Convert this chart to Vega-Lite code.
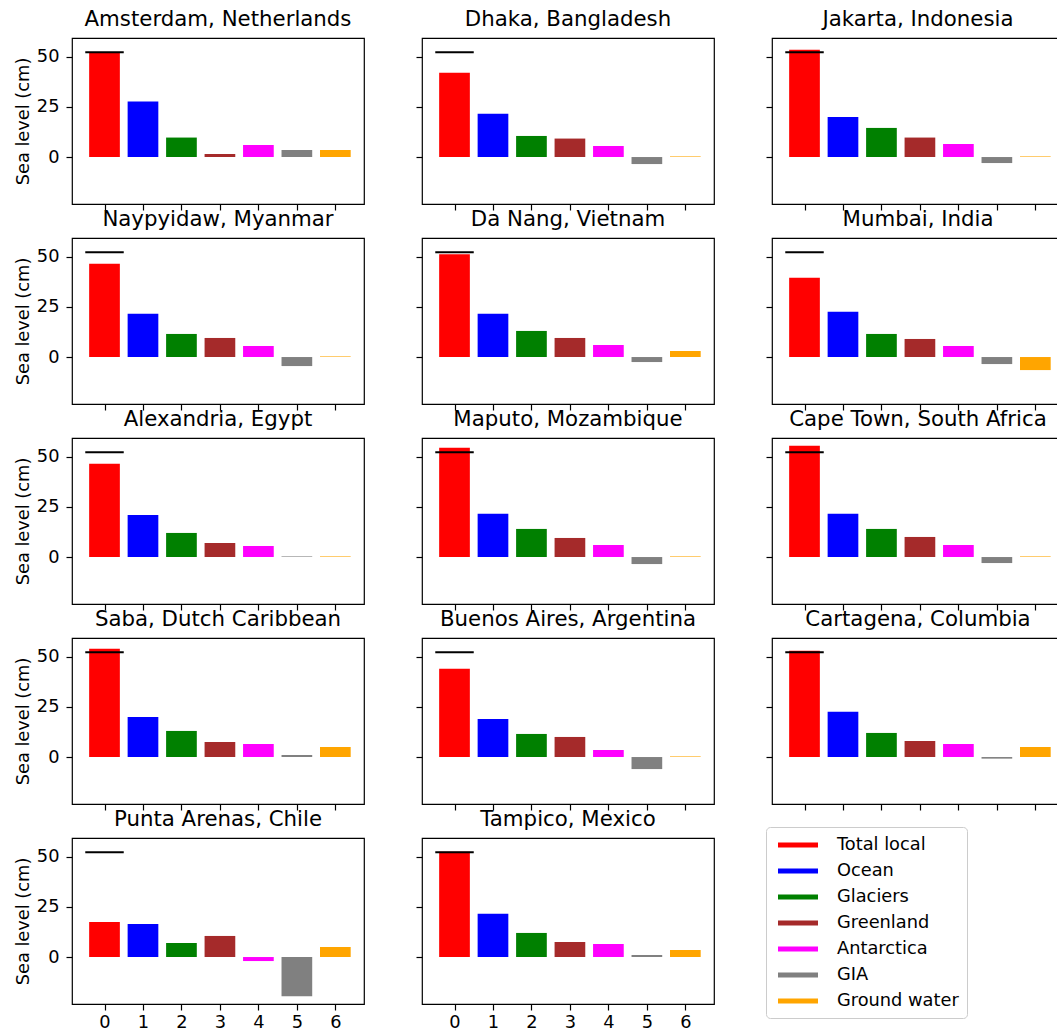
{
"$schema": "https://vega.github.io/schema/vega-lite/v6.json",
"padding": {"left": 13, "top": 8, "right": 5, "bottom": 2},
"background": "white",
"datasets": {
"bars": [
{"city":"Amsterdam, Netherlands","idx":0,"component":"Total local","value":51.8},
{"city":"Amsterdam, Netherlands","idx":1,"component":"Ocean","value":27.7},
{"city":"Amsterdam, Netherlands","idx":2,"component":"Glaciers","value":9.7},
{"city":"Amsterdam, Netherlands","idx":3,"component":"Greenland","value":1.5},
{"city":"Amsterdam, Netherlands","idx":4,"component":"Antarctica","value":6},
{"city":"Amsterdam, Netherlands","idx":5,"component":"GIA","value":3.5},
{"city":"Amsterdam, Netherlands","idx":6,"component":"Ground water","value":3.5},
{"city":"Dhaka, Bangladesh","idx":0,"component":"Total local","value":42},
{"city":"Dhaka, Bangladesh","idx":1,"component":"Ocean","value":21.5},
{"city":"Dhaka, Bangladesh","idx":2,"component":"Glaciers","value":10.5},
{"city":"Dhaka, Bangladesh","idx":3,"component":"Greenland","value":9.2},
{"city":"Dhaka, Bangladesh","idx":4,"component":"Antarctica","value":5.5},
{"city":"Dhaka, Bangladesh","idx":5,"component":"GIA","value":-3.5},
{"city":"Dhaka, Bangladesh","idx":6,"component":"Ground water","value":0.3},
{"city":"Jakarta, Indonesia","idx":0,"component":"Total local","value":53.5},
{"city":"Jakarta, Indonesia","idx":1,"component":"Ocean","value":20},
{"city":"Jakarta, Indonesia","idx":2,"component":"Glaciers","value":14.5},
{"city":"Jakarta, Indonesia","idx":3,"component":"Greenland","value":9.7},
{"city":"Jakarta, Indonesia","idx":4,"component":"Antarctica","value":6.5},
{"city":"Jakarta, Indonesia","idx":5,"component":"GIA","value":-3},
{"city":"Jakarta, Indonesia","idx":6,"component":"Ground water","value":0.3},
{"city":"Naypyidaw, Myanmar","idx":0,"component":"Total local","value":46.5},
{"city":"Naypyidaw, Myanmar","idx":1,"component":"Ocean","value":21.5},
{"city":"Naypyidaw, Myanmar","idx":2,"component":"Glaciers","value":11.5},
{"city":"Naypyidaw, Myanmar","idx":3,"component":"Greenland","value":9.5},
{"city":"Naypyidaw, Myanmar","idx":4,"component":"Antarctica","value":5.5},
{"city":"Naypyidaw, Myanmar","idx":5,"component":"GIA","value":-4.5},
{"city":"Naypyidaw, Myanmar","idx":6,"component":"Ground water","value":0.3},
{"city":"Da Nang, Vietnam","idx":0,"component":"Total local","value":51.2},
{"city":"Da Nang, Vietnam","idx":1,"component":"Ocean","value":21.5},
{"city":"Da Nang, Vietnam","idx":2,"component":"Glaciers","value":13},
{"city":"Da Nang, Vietnam","idx":3,"component":"Greenland","value":9.5},
{"city":"Da Nang, Vietnam","idx":4,"component":"Antarctica","value":6},
{"city":"Da Nang, Vietnam","idx":5,"component":"GIA","value":-2.5},
{"city":"Da Nang, Vietnam","idx":6,"component":"Ground water","value":3},
{"city":"Mumbai, India","idx":0,"component":"Total local","value":39.5},
{"city":"Mumbai, India","idx":1,"component":"Ocean","value":22.5},
{"city":"Mumbai, India","idx":2,"component":"Glaciers","value":11.5},
{"city":"Mumbai, India","idx":3,"component":"Greenland","value":9},
{"city":"Mumbai, India","idx":4,"component":"Antarctica","value":5.5},
{"city":"Mumbai, India","idx":5,"component":"GIA","value":-3.5},
{"city":"Mumbai, India","idx":6,"component":"Ground water","value":-6.5},
{"city":"Alexandria, Egypt","idx":0,"component":"Total local","value":46.5},
{"city":"Alexandria, Egypt","idx":1,"component":"Ocean","value":21},
{"city":"Alexandria, Egypt","idx":2,"component":"Glaciers","value":12},
{"city":"Alexandria, Egypt","idx":3,"component":"Greenland","value":7},
{"city":"Alexandria, Egypt","idx":4,"component":"Antarctica","value":5.5},
{"city":"Alexandria, Egypt","idx":5,"component":"GIA","value":0.3},
{"city":"Alexandria, Egypt","idx":6,"component":"Ground water","value":0.3},
{"city":"Maputo, Mozambique","idx":0,"component":"Total local","value":54.5},
{"city":"Maputo, Mozambique","idx":1,"component":"Ocean","value":21.5},
{"city":"Maputo, Mozambique","idx":2,"component":"Glaciers","value":14},
{"city":"Maputo, Mozambique","idx":3,"component":"Greenland","value":9.5},
{"city":"Maputo, Mozambique","idx":4,"component":"Antarctica","value":6},
{"city":"Maputo, Mozambique","idx":5,"component":"GIA","value":-3.5},
{"city":"Maputo, Mozambique","idx":6,"component":"Ground water","value":0.3},
{"city":"Cape Town, South Africa","idx":0,"component":"Total local","value":55.5},
{"city":"Cape Town, South Africa","idx":1,"component":"Ocean","value":21.5},
{"city":"Cape Town, South Africa","idx":2,"component":"Glaciers","value":14},
{"city":"Cape Town, South Africa","idx":3,"component":"Greenland","value":10},
{"city":"Cape Town, South Africa","idx":4,"component":"Antarctica","value":6},
{"city":"Cape Town, South Africa","idx":5,"component":"GIA","value":-3},
{"city":"Cape Town, South Africa","idx":6,"component":"Ground water","value":0.3},
{"city":"Saba, Dutch Caribbean","idx":0,"component":"Total local","value":54},
{"city":"Saba, Dutch Caribbean","idx":1,"component":"Ocean","value":20},
{"city":"Saba, Dutch Caribbean","idx":2,"component":"Glaciers","value":13},
{"city":"Saba, Dutch Caribbean","idx":3,"component":"Greenland","value":7.5},
{"city":"Saba, Dutch Caribbean","idx":4,"component":"Antarctica","value":6.5},
{"city":"Saba, Dutch Caribbean","idx":5,"component":"GIA","value":1},
{"city":"Saba, Dutch Caribbean","idx":6,"component":"Ground water","value":5},
{"city":"Buenos Aires, Argentina","idx":0,"component":"Total local","value":44},
{"city":"Buenos Aires, Argentina","idx":1,"component":"Ocean","value":19},
{"city":"Buenos Aires, Argentina","idx":2,"component":"Glaciers","value":11.5},
{"city":"Buenos Aires, Argentina","idx":3,"component":"Greenland","value":10},
{"city":"Buenos Aires, Argentina","idx":4,"component":"Antarctica","value":3.5},
{"city":"Buenos Aires, Argentina","idx":5,"component":"GIA","value":-6},
{"city":"Buenos Aires, Argentina","idx":6,"component":"Ground water","value":0.3},
{"city":"Cartagena, Columbia","idx":0,"component":"Total local","value":53},
{"city":"Cartagena, Columbia","idx":1,"component":"Ocean","value":22.5},
{"city":"Cartagena, Columbia","idx":2,"component":"Glaciers","value":12},
{"city":"Cartagena, Columbia","idx":3,"component":"Greenland","value":8},
{"city":"Cartagena, Columbia","idx":4,"component":"Antarctica","value":6.5},
{"city":"Cartagena, Columbia","idx":5,"component":"GIA","value":-0.8},
{"city":"Cartagena, Columbia","idx":6,"component":"Ground water","value":5},
{"city":"Punta Arenas, Chile","idx":0,"component":"Total local","value":17.5},
{"city":"Punta Arenas, Chile","idx":1,"component":"Ocean","value":16.5},
{"city":"Punta Arenas, Chile","idx":2,"component":"Glaciers","value":7},
{"city":"Punta Arenas, Chile","idx":3,"component":"Greenland","value":10.5},
{"city":"Punta Arenas, Chile","idx":4,"component":"Antarctica","value":-2},
{"city":"Punta Arenas, Chile","idx":5,"component":"GIA","value":-19.5},
{"city":"Punta Arenas, Chile","idx":6,"component":"Ground water","value":5},
{"city":"Tampico, Mexico","idx":0,"component":"Total local","value":52.5},
{"city":"Tampico, Mexico","idx":1,"component":"Ocean","value":21.5},
{"city":"Tampico, Mexico","idx":2,"component":"Glaciers","value":12},
{"city":"Tampico, Mexico","idx":3,"component":"Greenland","value":7.5},
{"city":"Tampico, Mexico","idx":4,"component":"Antarctica","value":6.5},
{"city":"Tampico, Mexico","idx":5,"component":"GIA","value":1},
{"city":"Tampico, Mexico","idx":6,"component":"Ground water","value":3.5}
],
"glob": [
{"city":"Amsterdam, Netherlands","global":52.2},
{"city":"Dhaka, Bangladesh","global":52.2},
{"city":"Jakarta, Indonesia","global":52.2},
{"city":"Naypyidaw, Myanmar","global":52.2},
{"city":"Da Nang, Vietnam","global":52.2},
{"city":"Mumbai, India","global":52.2},
{"city":"Alexandria, Egypt","global":52.2},
{"city":"Maputo, Mozambique","global":52.2},
{"city":"Cape Town, South Africa","global":52.2},
{"city":"Saba, Dutch Caribbean","global":52.2},
{"city":"Buenos Aires, Argentina","global":52.2},
{"city":"Cartagena, Columbia","global":52.2},
{"city":"Punta Arenas, Chile","global":52.2},
{"city":"Tampico, Mexico","global":52.2}
]
},
"columns": 3,
"spacing": {"row": 34, "column": 58},
"bounds": "flush",
"align": "all",
"concat": [
{"title":"Amsterdam, Netherlands","width":292,"height":166,"layer":[
{"data":{"name":"bars"},"transform":[{"filter":"datum.city == 'Amsterdam, Netherlands'"}],"mark":{"type":"bar","size":30.7},"encoding":{
"x":{"field":"idx","type":"quantitative","scale":{"domain":[-0.845,6.745],"nice":false,"zero":false,"padding":0},"axis":{"values":[0,1,2,3,4,5,6],"labels":false,"title":null}},
"y":{"field":"value","type":"quantitative","scale":{"domain":[-23.4,59.3],"nice":false,"zero":false},"axis":{"values":[0,25,50],"title":"Sea level (cm)"}},
"color":{"field":"component","type":"nominal","scale":{"domain":["Total local","Ocean","Glaciers","Greenland","Antarctica","GIA","Ground water"],"range":["#ff0000","#0000ff","#008000","#a52a2a","#ff00ff","#808080","#ffa500"]},"legend":{"orient":"none","legendX":694,"legendY":789,"title":null}}}},
{"data":{"name":"glob"},"transform":[{"filter":"datum.city == 'Amsterdam, Netherlands'"}],"mark":{"type":"rule","color":"black","strokeWidth":2.2},"encoding":{"x":{"datum":-0.5,"type":"quantitative"},"x2":{"datum":0.5},"y":{"field":"global","type":"quantitative"}}}
]},
{"title":"Dhaka, Bangladesh","width":292,"height":166,"layer":[
{"data":{"name":"bars"},"transform":[{"filter":"datum.city == 'Dhaka, Bangladesh'"}],"mark":{"type":"bar","size":30.7},"encoding":{
"x":{"field":"idx","type":"quantitative","scale":{"domain":[-0.845,6.745],"nice":false,"zero":false,"padding":0},"axis":{"values":[0,1,2,3,4,5,6],"labels":false,"title":null}},
"y":{"field":"value","type":"quantitative","scale":{"domain":[-23.4,59.3],"nice":false,"zero":false},"axis":{"values":[0,25,50],"labels":false,"title":null}},
"color":{"field":"component","type":"nominal","scale":{"domain":["Total local","Ocean","Glaciers","Greenland","Antarctica","GIA","Ground water"],"range":["#ff0000","#0000ff","#008000","#a52a2a","#ff00ff","#808080","#ffa500"]},"legend":null}}},
{"data":{"name":"glob"},"transform":[{"filter":"datum.city == 'Dhaka, Bangladesh'"}],"mark":{"type":"rule","color":"black","strokeWidth":2.2},"encoding":{"x":{"datum":-0.5,"type":"quantitative"},"x2":{"datum":0.5},"y":{"field":"global","type":"quantitative"}}}
]},
{"title":"Jakarta, Indonesia","width":292,"height":166,"layer":[
{"data":{"name":"bars"},"transform":[{"filter":"datum.city == 'Jakarta, Indonesia'"}],"mark":{"type":"bar","size":30.7},"encoding":{
"x":{"field":"idx","type":"quantitative","scale":{"domain":[-0.845,6.745],"nice":false,"zero":false,"padding":0},"axis":{"values":[0,1,2,3,4,5,6],"labels":false,"title":null}},
"y":{"field":"value","type":"quantitative","scale":{"domain":[-23.4,59.3],"nice":false,"zero":false},"axis":{"values":[0,25,50],"labels":false,"title":null}},
"color":{"field":"component","type":"nominal","scale":{"domain":["Total local","Ocean","Glaciers","Greenland","Antarctica","GIA","Ground water"],"range":["#ff0000","#0000ff","#008000","#a52a2a","#ff00ff","#808080","#ffa500"]},"legend":null}}},
{"data":{"name":"glob"},"transform":[{"filter":"datum.city == 'Jakarta, Indonesia'"}],"mark":{"type":"rule","color":"black","strokeWidth":2.2},"encoding":{"x":{"datum":-0.5,"type":"quantitative"},"x2":{"datum":0.5},"y":{"field":"global","type":"quantitative"}}}
]},
{"title":"Naypyidaw, Myanmar","width":292,"height":166,"layer":[
{"data":{"name":"bars"},"transform":[{"filter":"datum.city == 'Naypyidaw, Myanmar'"}],"mark":{"type":"bar","size":30.7},"encoding":{
"x":{"field":"idx","type":"quantitative","scale":{"domain":[-0.845,6.745],"nice":false,"zero":false,"padding":0},"axis":{"values":[0,1,2,3,4,5,6],"labels":false,"title":null}},
"y":{"field":"value","type":"quantitative","scale":{"domain":[-23.4,59.3],"nice":false,"zero":false},"axis":{"values":[0,25,50],"title":"Sea level (cm)"}},
"color":{"field":"component","type":"nominal","scale":{"domain":["Total local","Ocean","Glaciers","Greenland","Antarctica","GIA","Ground water"],"range":["#ff0000","#0000ff","#008000","#a52a2a","#ff00ff","#808080","#ffa500"]},"legend":null}}},
{"data":{"name":"glob"},"transform":[{"filter":"datum.city == 'Naypyidaw, Myanmar'"}],"mark":{"type":"rule","color":"black","strokeWidth":2.2},"encoding":{"x":{"datum":-0.5,"type":"quantitative"},"x2":{"datum":0.5},"y":{"field":"global","type":"quantitative"}}}
]},
{"title":"Da Nang, Vietnam","width":292,"height":166,"layer":[
{"data":{"name":"bars"},"transform":[{"filter":"datum.city == 'Da Nang, Vietnam'"}],"mark":{"type":"bar","size":30.7},"encoding":{
"x":{"field":"idx","type":"quantitative","scale":{"domain":[-0.845,6.745],"nice":false,"zero":false,"padding":0},"axis":{"values":[0,1,2,3,4,5,6],"labels":false,"title":null}},
"y":{"field":"value","type":"quantitative","scale":{"domain":[-23.4,59.3],"nice":false,"zero":false},"axis":{"values":[0,25,50],"labels":false,"title":null}},
"color":{"field":"component","type":"nominal","scale":{"domain":["Total local","Ocean","Glaciers","Greenland","Antarctica","GIA","Ground water"],"range":["#ff0000","#0000ff","#008000","#a52a2a","#ff00ff","#808080","#ffa500"]},"legend":null}}},
{"data":{"name":"glob"},"transform":[{"filter":"datum.city == 'Da Nang, Vietnam'"}],"mark":{"type":"rule","color":"black","strokeWidth":2.2},"encoding":{"x":{"datum":-0.5,"type":"quantitative"},"x2":{"datum":0.5},"y":{"field":"global","type":"quantitative"}}}
]},
{"title":"Mumbai, India","width":292,"height":166,"layer":[
{"data":{"name":"bars"},"transform":[{"filter":"datum.city == 'Mumbai, India'"}],"mark":{"type":"bar","size":30.7},"encoding":{
"x":{"field":"idx","type":"quantitative","scale":{"domain":[-0.845,6.745],"nice":false,"zero":false,"padding":0},"axis":{"values":[0,1,2,3,4,5,6],"labels":false,"title":null}},
"y":{"field":"value","type":"quantitative","scale":{"domain":[-23.4,59.3],"nice":false,"zero":false},"axis":{"values":[0,25,50],"labels":false,"title":null}},
"color":{"field":"component","type":"nominal","scale":{"domain":["Total local","Ocean","Glaciers","Greenland","Antarctica","GIA","Ground water"],"range":["#ff0000","#0000ff","#008000","#a52a2a","#ff00ff","#808080","#ffa500"]},"legend":null}}},
{"data":{"name":"glob"},"transform":[{"filter":"datum.city == 'Mumbai, India'"}],"mark":{"type":"rule","color":"black","strokeWidth":2.2},"encoding":{"x":{"datum":-0.5,"type":"quantitative"},"x2":{"datum":0.5},"y":{"field":"global","type":"quantitative"}}}
]},
{"title":"Alexandria, Egypt","width":292,"height":166,"layer":[
{"data":{"name":"bars"},"transform":[{"filter":"datum.city == 'Alexandria, Egypt'"}],"mark":{"type":"bar","size":30.7},"encoding":{
"x":{"field":"idx","type":"quantitative","scale":{"domain":[-0.845,6.745],"nice":false,"zero":false,"padding":0},"axis":{"values":[0,1,2,3,4,5,6],"labels":false,"title":null}},
"y":{"field":"value","type":"quantitative","scale":{"domain":[-23.4,59.3],"nice":false,"zero":false},"axis":{"values":[0,25,50],"title":"Sea level (cm)"}},
"color":{"field":"component","type":"nominal","scale":{"domain":["Total local","Ocean","Glaciers","Greenland","Antarctica","GIA","Ground water"],"range":["#ff0000","#0000ff","#008000","#a52a2a","#ff00ff","#808080","#ffa500"]},"legend":null}}},
{"data":{"name":"glob"},"transform":[{"filter":"datum.city == 'Alexandria, Egypt'"}],"mark":{"type":"rule","color":"black","strokeWidth":2.2},"encoding":{"x":{"datum":-0.5,"type":"quantitative"},"x2":{"datum":0.5},"y":{"field":"global","type":"quantitative"}}}
]},
{"title":"Maputo, Mozambique","width":292,"height":166,"layer":[
{"data":{"name":"bars"},"transform":[{"filter":"datum.city == 'Maputo, Mozambique'"}],"mark":{"type":"bar","size":30.7},"encoding":{
"x":{"field":"idx","type":"quantitative","scale":{"domain":[-0.845,6.745],"nice":false,"zero":false,"padding":0},"axis":{"values":[0,1,2,3,4,5,6],"labels":false,"title":null}},
"y":{"field":"value","type":"quantitative","scale":{"domain":[-23.4,59.3],"nice":false,"zero":false},"axis":{"values":[0,25,50],"labels":false,"title":null}},
"color":{"field":"component","type":"nominal","scale":{"domain":["Total local","Ocean","Glaciers","Greenland","Antarctica","GIA","Ground water"],"range":["#ff0000","#0000ff","#008000","#a52a2a","#ff00ff","#808080","#ffa500"]},"legend":null}}},
{"data":{"name":"glob"},"transform":[{"filter":"datum.city == 'Maputo, Mozambique'"}],"mark":{"type":"rule","color":"black","strokeWidth":2.2},"encoding":{"x":{"datum":-0.5,"type":"quantitative"},"x2":{"datum":0.5},"y":{"field":"global","type":"quantitative"}}}
]},
{"title":"Cape Town, South Africa","width":292,"height":166,"layer":[
{"data":{"name":"bars"},"transform":[{"filter":"datum.city == 'Cape Town, South Africa'"}],"mark":{"type":"bar","size":30.7},"encoding":{
"x":{"field":"idx","type":"quantitative","scale":{"domain":[-0.845,6.745],"nice":false,"zero":false,"padding":0},"axis":{"values":[0,1,2,3,4,5,6],"labels":false,"title":null}},
"y":{"field":"value","type":"quantitative","scale":{"domain":[-23.4,59.3],"nice":false,"zero":false},"axis":{"values":[0,25,50],"labels":false,"title":null}},
"color":{"field":"component","type":"nominal","scale":{"domain":["Total local","Ocean","Glaciers","Greenland","Antarctica","GIA","Ground water"],"range":["#ff0000","#0000ff","#008000","#a52a2a","#ff00ff","#808080","#ffa500"]},"legend":null}}},
{"data":{"name":"glob"},"transform":[{"filter":"datum.city == 'Cape Town, South Africa'"}],"mark":{"type":"rule","color":"black","strokeWidth":2.2},"encoding":{"x":{"datum":-0.5,"type":"quantitative"},"x2":{"datum":0.5},"y":{"field":"global","type":"quantitative"}}}
]},
{"title":"Saba, Dutch Caribbean","width":292,"height":166,"layer":[
{"data":{"name":"bars"},"transform":[{"filter":"datum.city == 'Saba, Dutch Caribbean'"}],"mark":{"type":"bar","size":30.7},"encoding":{
"x":{"field":"idx","type":"quantitative","scale":{"domain":[-0.845,6.745],"nice":false,"zero":false,"padding":0},"axis":{"values":[0,1,2,3,4,5,6],"labels":false,"title":null}},
"y":{"field":"value","type":"quantitative","scale":{"domain":[-23.4,59.3],"nice":false,"zero":false},"axis":{"values":[0,25,50],"title":"Sea level (cm)"}},
"color":{"field":"component","type":"nominal","scale":{"domain":["Total local","Ocean","Glaciers","Greenland","Antarctica","GIA","Ground water"],"range":["#ff0000","#0000ff","#008000","#a52a2a","#ff00ff","#808080","#ffa500"]},"legend":null}}},
{"data":{"name":"glob"},"transform":[{"filter":"datum.city == 'Saba, Dutch Caribbean'"}],"mark":{"type":"rule","color":"black","strokeWidth":2.2},"encoding":{"x":{"datum":-0.5,"type":"quantitative"},"x2":{"datum":0.5},"y":{"field":"global","type":"quantitative"}}}
]},
{"title":"Buenos Aires, Argentina","width":292,"height":166,"layer":[
{"data":{"name":"bars"},"transform":[{"filter":"datum.city == 'Buenos Aires, Argentina'"}],"mark":{"type":"bar","size":30.7},"encoding":{
"x":{"field":"idx","type":"quantitative","scale":{"domain":[-0.845,6.745],"nice":false,"zero":false,"padding":0},"axis":{"values":[0,1,2,3,4,5,6],"labels":false,"title":null}},
"y":{"field":"value","type":"quantitative","scale":{"domain":[-23.4,59.3],"nice":false,"zero":false},"axis":{"values":[0,25,50],"labels":false,"title":null}},
"color":{"field":"component","type":"nominal","scale":{"domain":["Total local","Ocean","Glaciers","Greenland","Antarctica","GIA","Ground water"],"range":["#ff0000","#0000ff","#008000","#a52a2a","#ff00ff","#808080","#ffa500"]},"legend":null}}},
{"data":{"name":"glob"},"transform":[{"filter":"datum.city == 'Buenos Aires, Argentina'"}],"mark":{"type":"rule","color":"black","strokeWidth":2.2},"encoding":{"x":{"datum":-0.5,"type":"quantitative"},"x2":{"datum":0.5},"y":{"field":"global","type":"quantitative"}}}
]},
{"title":"Cartagena, Columbia","width":292,"height":166,"layer":[
{"data":{"name":"bars"},"transform":[{"filter":"datum.city == 'Cartagena, Columbia'"}],"mark":{"type":"bar","size":30.7},"encoding":{
"x":{"field":"idx","type":"quantitative","scale":{"domain":[-0.845,6.745],"nice":false,"zero":false,"padding":0},"axis":{"values":[0,1,2,3,4,5,6],"labels":false,"title":null}},
"y":{"field":"value","type":"quantitative","scale":{"domain":[-23.4,59.3],"nice":false,"zero":false},"axis":{"values":[0,25,50],"labels":false,"title":null}},
"color":{"field":"component","type":"nominal","scale":{"domain":["Total local","Ocean","Glaciers","Greenland","Antarctica","GIA","Ground water"],"range":["#ff0000","#0000ff","#008000","#a52a2a","#ff00ff","#808080","#ffa500"]},"legend":null}}},
{"data":{"name":"glob"},"transform":[{"filter":"datum.city == 'Cartagena, Columbia'"}],"mark":{"type":"rule","color":"black","strokeWidth":2.2},"encoding":{"x":{"datum":-0.5,"type":"quantitative"},"x2":{"datum":0.5},"y":{"field":"global","type":"quantitative"}}}
]},
{"title":"Punta Arenas, Chile","width":292,"height":166,"layer":[
{"data":{"name":"bars"},"transform":[{"filter":"datum.city == 'Punta Arenas, Chile'"}],"mark":{"type":"bar","size":30.7},"encoding":{
"x":{"field":"idx","type":"quantitative","scale":{"domain":[-0.845,6.745],"nice":false,"zero":false,"padding":0},"axis":{"values":[0,1,2,3,4,5,6],"format":"d","title":null,"labelPadding":3}},
"y":{"field":"value","type":"quantitative","scale":{"domain":[-23.4,59.3],"nice":false,"zero":false},"axis":{"values":[0,25,50],"title":"Sea level (cm)"}},
"color":{"field":"component","type":"nominal","scale":{"domain":["Total local","Ocean","Glaciers","Greenland","Antarctica","GIA","Ground water"],"range":["#ff0000","#0000ff","#008000","#a52a2a","#ff00ff","#808080","#ffa500"]},"legend":null}}},
{"data":{"name":"glob"},"transform":[{"filter":"datum.city == 'Punta Arenas, Chile'"}],"mark":{"type":"rule","color":"black","strokeWidth":2.2},"encoding":{"x":{"datum":-0.5,"type":"quantitative"},"x2":{"datum":0.5},"y":{"field":"global","type":"quantitative"}}}
]},
{"title":"Tampico, Mexico","width":292,"height":166,"layer":[
{"data":{"name":"bars"},"transform":[{"filter":"datum.city == 'Tampico, Mexico'"}],"mark":{"type":"bar","size":30.7},"encoding":{
"x":{"field":"idx","type":"quantitative","scale":{"domain":[-0.845,6.745],"nice":false,"zero":false,"padding":0},"axis":{"values":[0,1,2,3,4,5,6],"format":"d","title":null,"labelPadding":3}},
"y":{"field":"value","type":"quantitative","scale":{"domain":[-23.4,59.3],"nice":false,"zero":false},"axis":{"values":[0,25,50],"labels":false,"title":null}},
"color":{"field":"component","type":"nominal","scale":{"domain":["Total local","Ocean","Glaciers","Greenland","Antarctica","GIA","Ground water"],"range":["#ff0000","#0000ff","#008000","#a52a2a","#ff00ff","#808080","#ffa500"]},"legend":null}}},
{"data":{"name":"glob"},"transform":[{"filter":"datum.city == 'Tampico, Mexico'"}],"mark":{"type":"rule","color":"black","strokeWidth":2.2},"encoding":{"x":{"datum":-0.5,"type":"quantitative"},"x2":{"datum":0.5},"y":{"field":"global","type":"quantitative"}}}
]}
],
"config": {
"font": "DejaVu Sans",
"view": {"stroke": "black", "strokeWidth": 1.2},
"axis": {"domain": false, "grid": false, "tickColor": "black", "tickSize": 6, "tickWidth": 1.2, "labelFont": "DejaVu Sans", "labelFontSize": 17.8, "labelColor": "black", "labelPadding": 7, "titleFont": "DejaVu Sans", "titleFontSize": 17.8, "titleFontWeight": "normal", "titleColor": "black", "titlePadding": 4},
"title": {"font": "DejaVu Sans", "fontSize": 21.3, "fontWeight": "normal", "color": "black", "offset": 7.5, "frame": "group", "anchor": "middle", "baseline": "alphabetic"},
"legend": {"labelFont": "DejaVu Sans", "labelFontSize": 17.8, "labelColor": "black", "labelLimit": 300, "symbolType": "M-1,-0.25H3V0.25H-1Z", "symbolSize": 400, "symbolStrokeWidth": 0, "symbolOpacity": 1, "symbolOffset": 4, "labelOffset": 39, "rowPadding": 7, "padding": 8, "strokeColor": "#cccccc", "fillColor": "white", "cornerRadius": 4}
}
}
